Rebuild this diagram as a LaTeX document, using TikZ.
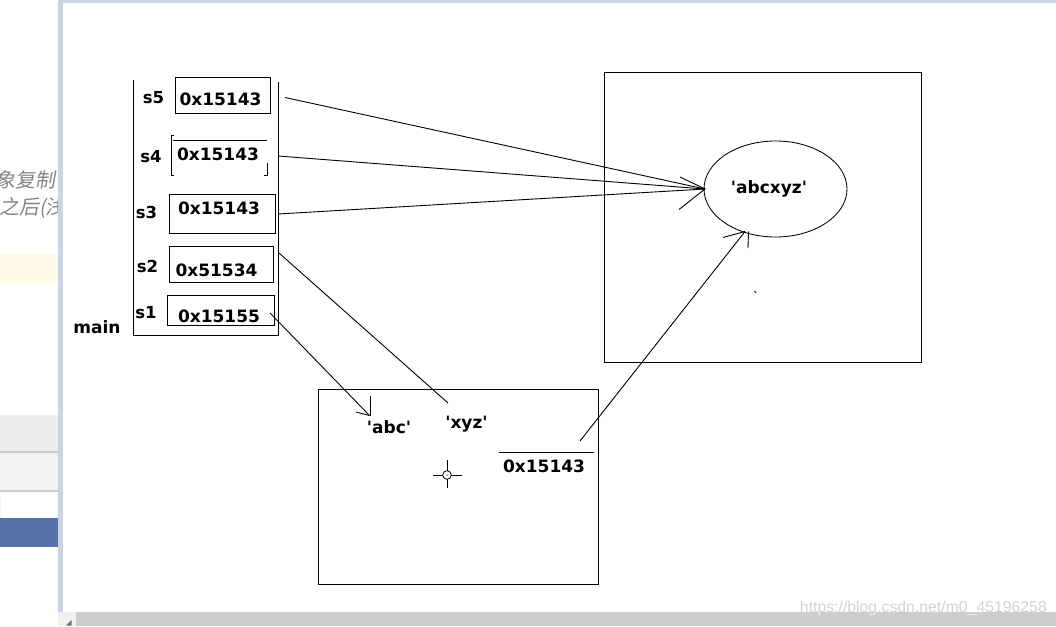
\documentclass[tikz,border=0pt]{standalone}
\usepackage{fontspec}
\usetikzlibrary{shapes.geometric}
\newfontfamily\hb{DejaVu Sans}[Ligatures=TeXOff]
\newfontfamily\wm{Liberation Sans}
\newfontfamily\cjk{Noto Sans CJK SC}[FakeSlant=0.18]
\definecolor{frameblue}{HTML}{C9D4E4}
\definecolor{pageyellow}{HTML}{FFF9E6}
\definecolor{bargray}{HTML}{EEEEEE}
\definecolor{bargrayb}{HTML}{F2F2F2}
\definecolor{sepgray}{HTML}{CCCCCC}
\definecolor{btnblue}{HTML}{5672A8}
\definecolor{scroll}{HTML}{CDCDCD}
\tikzset{
  lbl/.style={font=\hb\bfseries\fontsize{17}{20}\selectfont, inner sep=0pt, anchor=base},
  slbl/.style={font=\hb\bfseries\fontsize{16.5}{20}\selectfont, inner sep=0pt, anchor=base},
  cell/.style={draw, line width=1pt, inner sep=0pt},
  ln/.style={line width=0.9pt},
  thin/.style={line width=0.8pt},
  cjktxt/.style={font=\cjk\fontsize{20}{23}\selectfont, text=black!48, inner sep=0pt},
}
\begin{document}
\begin{tikzpicture}[x=1pt,y=-1pt]
\useasboundingbox (0,0) rectangle (1056,626);
\fill[white] (0,0) rectangle (1056,626);
% ---- left page fragment ----
\begin{scope}
  \clip (0,0) rectangle (57.5,612);
  \node[cjktxt, anchor=base east] (cn1) at (56,187) {象复制};
  \node[cjktxt, anchor=base west] (cn2) at (-1,214) {之后(浅};
\end{scope}
\fill[pageyellow] (0,254) rectangle (57.5,283);
\fill[bargray] (0,415) rectangle (57.5,451);
\fill[sepgray] (0,451) rectangle (57.5,453);
\fill[bargrayb] (0,453) rectangle (57.5,490);
\fill[sepgray] (0,490) rectangle (57.5,491.5);
\fill[green!8] (0,491.5) rectangle (1,518);
\fill[btnblue] (0,518) rectangle (57.5,547);
\fill[frameblue] (58,0) rectangle (63,612);
\fill[frameblue] (58,0) rectangle (1056,3);
% scrollbar
\fill[scroll] (58,612) rectangle (1056,626);
\fill[black!6] (58,612) rectangle (76,626);
\fill[black!55] (66,625.5) -- (71.5,620) -- (71.5,625.5) -- cycle;
% ---- stack frame ----
\draw[line width=1pt] (133,80) -- (133,335) -- (278,335) -- (278,81.5);
\node[lbl] (main) at (97,333) {main};
\node[slbl] (s5) at (153.5,103) {s5};
\node[slbl] (s4) at (151,162) {s4};
\node[slbl] (s3) at (146.5,218) {s3};
\node[slbl] (s2) at (147.5,272) {s2};
\node[slbl] (s1) at (146,318) {s1};
\node[cell, minimum width=95pt, minimum height=36pt] (b5) at (222.5,95) {};
\node[cell, minimum width=106pt, minimum height=39pt] (b3) at (222,213.5) {};
\node[cell, minimum width=104pt, minimum height=36pt] (b2) at (221,264) {};
\node[cell, minimum width=107pt, minimum height=30pt] (b1) at (220.5,310) {};
% s4 bracket-like box
\draw[line width=1pt] (173.5,135) -- (171,135) -- (171,175) -- (174,175);
\draw[line width=1pt] (173,140.5) -- (267,140.5);
\draw[line width=1pt] (267,163) -- (267,175) -- (264,175);
\node[lbl] (v5) at (220.5,105) {0x15143};
\node[lbl] (v4) at (218,160.5) {0x15143};
\node[lbl] (v3) at (219,214) {0x15143};
\node[lbl] (v2) at (216.5,276) {0x51534};
\node[lbl] (v1) at (219,322) {0x15155};
% ---- heap box (right) ----
\draw[line width=1pt] (604,72) rectangle (921,362);
\node[draw, ellipse, line width=0.85pt, minimum width=143pt, minimum height=96pt, inner sep=0pt] (ell) at (775.5,189) {};
\node[lbl] (abcxyz) at (769,193) {'abcxyz'};
\draw[thin] (754.5,291) -- (756,293);
% ---- constant pool box (bottom) ----
\draw[line width=1pt] (318,389) rectangle (598,584);
\node[lbl] (abc) at (389,433) {'abc'};
\node[lbl] (xyz) at (466.5,428.5) {'xyz'};
\draw[line width=1pt] (499,452.5) -- (594,452.5);
\node[lbl] (v6) at (544,472) {0x15143};
% crosshair
\coordinate (cross) at (447,475);
\draw[thin] (cross) circle (4.3pt);
\fill (cross) circle (0.7pt);
\draw[thin] (433,475) -- (442.7,475) (451.3,475) -- (462,475) (447,460) -- (447,470.7) (447,479.3) -- (447,488);
% ---- connectors ----
\coordinate (tipA) at (705,189);
\coordinate (tipB) at (745,231.5);
\coordinate (o5) at (285,97.5);
\coordinate (o4) at (278,156);
\coordinate (o3) at (278,214);
\coordinate (o2) at (279,253);
\coordinate (o1) at (270,313);
\coordinate (o6) at (580,441);
\coordinate (e2) at (448,403);
\coordinate (e1) at (369.5,415.5);
\draw[ln] (o5) -- (tipA);
\draw[ln] (o4) -- (tipA);
\draw[ln] (o3) -- (tipA);
\draw[ln] (680,177) -- (tipA) -- (679,209.5);
\draw[ln] (o6) -- (tipB);
\draw[ln] (723,237.5) -- (tipB);
\draw[ln] (748.5,231.5) -- (748,248);
\draw[ln] (o2) -- (e2);
\draw[ln] (o1) -- (e1);
\draw[ln] (370,396) -- (370,415.5);
\draw[ln] (356,412) -- (e1);
% ---- watermark ----
\node[anchor=base east, font=\wm\fontsize{15.8}{18}\selectfont, text=black!17, inner sep=0pt] (wm) at (1047,612) {https://blog.csdn.net/m0\_45196258};
\begin{scope}
  \clip (58,612.5) rectangle (1056,626);
  \node[anchor=base east, font=\wm\fontsize{15.8}{18}\selectfont, text=black!7, inner sep=0pt] (wm2) at (1047,612) {https://blog.csdn.net/m0\_45196258};
\end{scope}
\end{tikzpicture}
\end{document}
